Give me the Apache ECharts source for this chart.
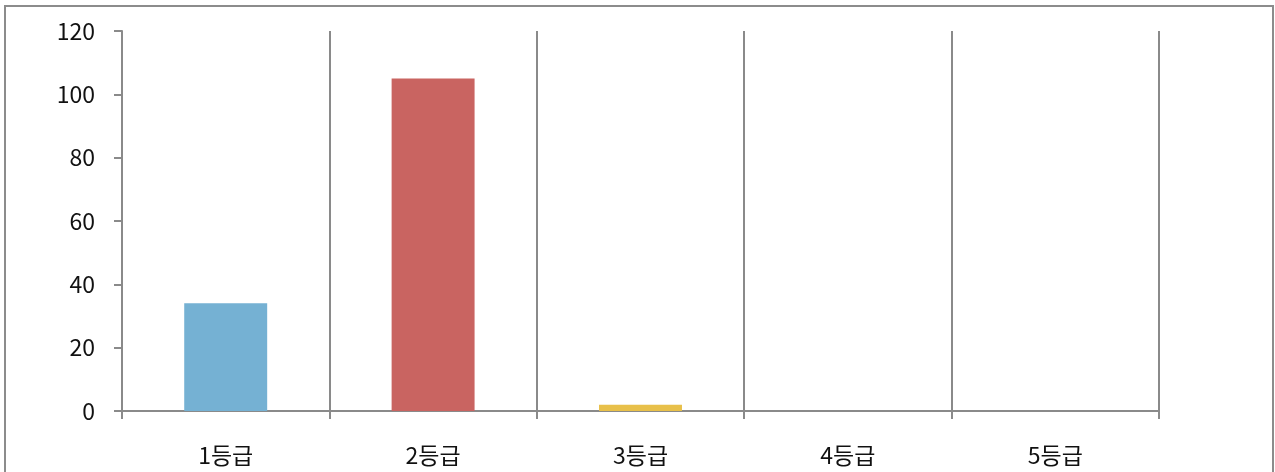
<!DOCTYPE html>
<html>
<head>
<meta charset="utf-8">
<script src="https://cdn.jsdelivr.net/npm/echarts@6/dist/echarts.min.js"></script>
<style>
  html, body { margin: 0; padding: 0; background: #fff; }
  #chart { width: 1275px; height: 472px; }
</style>
</head>
<body>
<div id="chart"></div>
<script>
// Grade categories and counts
const grades = ['1등급', '2등급', '3등급', '4등급', '5등급'];
const counts = [34, 105, 2, 0, 0];
const barColors = ['#75B1D3', '#C96461', '#E8C04A', '#8FB356', '#8A74A8'];
const yTicks = { min: 0, max: 120, interval: 20 };

const axisGray = '#8a8a8a';
const font = '"Noto Sans CJK KR", "Noto Sans", sans-serif';

const chart = echarts.init(document.getElementById('chart'));
chart.setOption({
  animation: false,
  backgroundColor: '#fff',
  graphic: [{
    type: 'rect',
    shape: { x: 5, y: 6, width: 1268, height: 480 },
    style: { fill: 'none', stroke: '#8c8c8c', lineWidth: 2 },
    silent: true
  }],
  grid: { left: 122, right: 116, top: 31, bottom: 61 },
  xAxis: {
    type: 'category',
    data: grades,
    boundaryGap: true,
    axisLine: { lineStyle: { color: axisGray, width: 2 } },
    axisTick: { show: true, alignWithLabel: false, length: 8, lineStyle: { color: axisGray, width: 2 } },
    splitLine: { show: true, lineStyle: { color: axisGray, width: 2 } },
    axisLabel: { color: '#111', fontSize: 23, fontFamily: font, margin: 33 }
  },
  yAxis: {
    type: 'value',
    min: yTicks.min,
    max: yTicks.max,
    interval: yTicks.interval,
    axisLine: { show: true, lineStyle: { color: axisGray, width: 2 } },
    axisTick: { show: true, length: 8, lineStyle: { color: axisGray, width: 2 } },
    splitLine: { show: false },
    axisLabel: { color: '#111', fontSize: 23, fontFamily: font, margin: 27 }
  },
  series: [{
    type: 'bar',
    barWidth: '40%',
    data: counts.map((v, i) => ({ value: v, itemStyle: { color: barColors[i] } }))
  }]
});
</script>
</body>
</html>
